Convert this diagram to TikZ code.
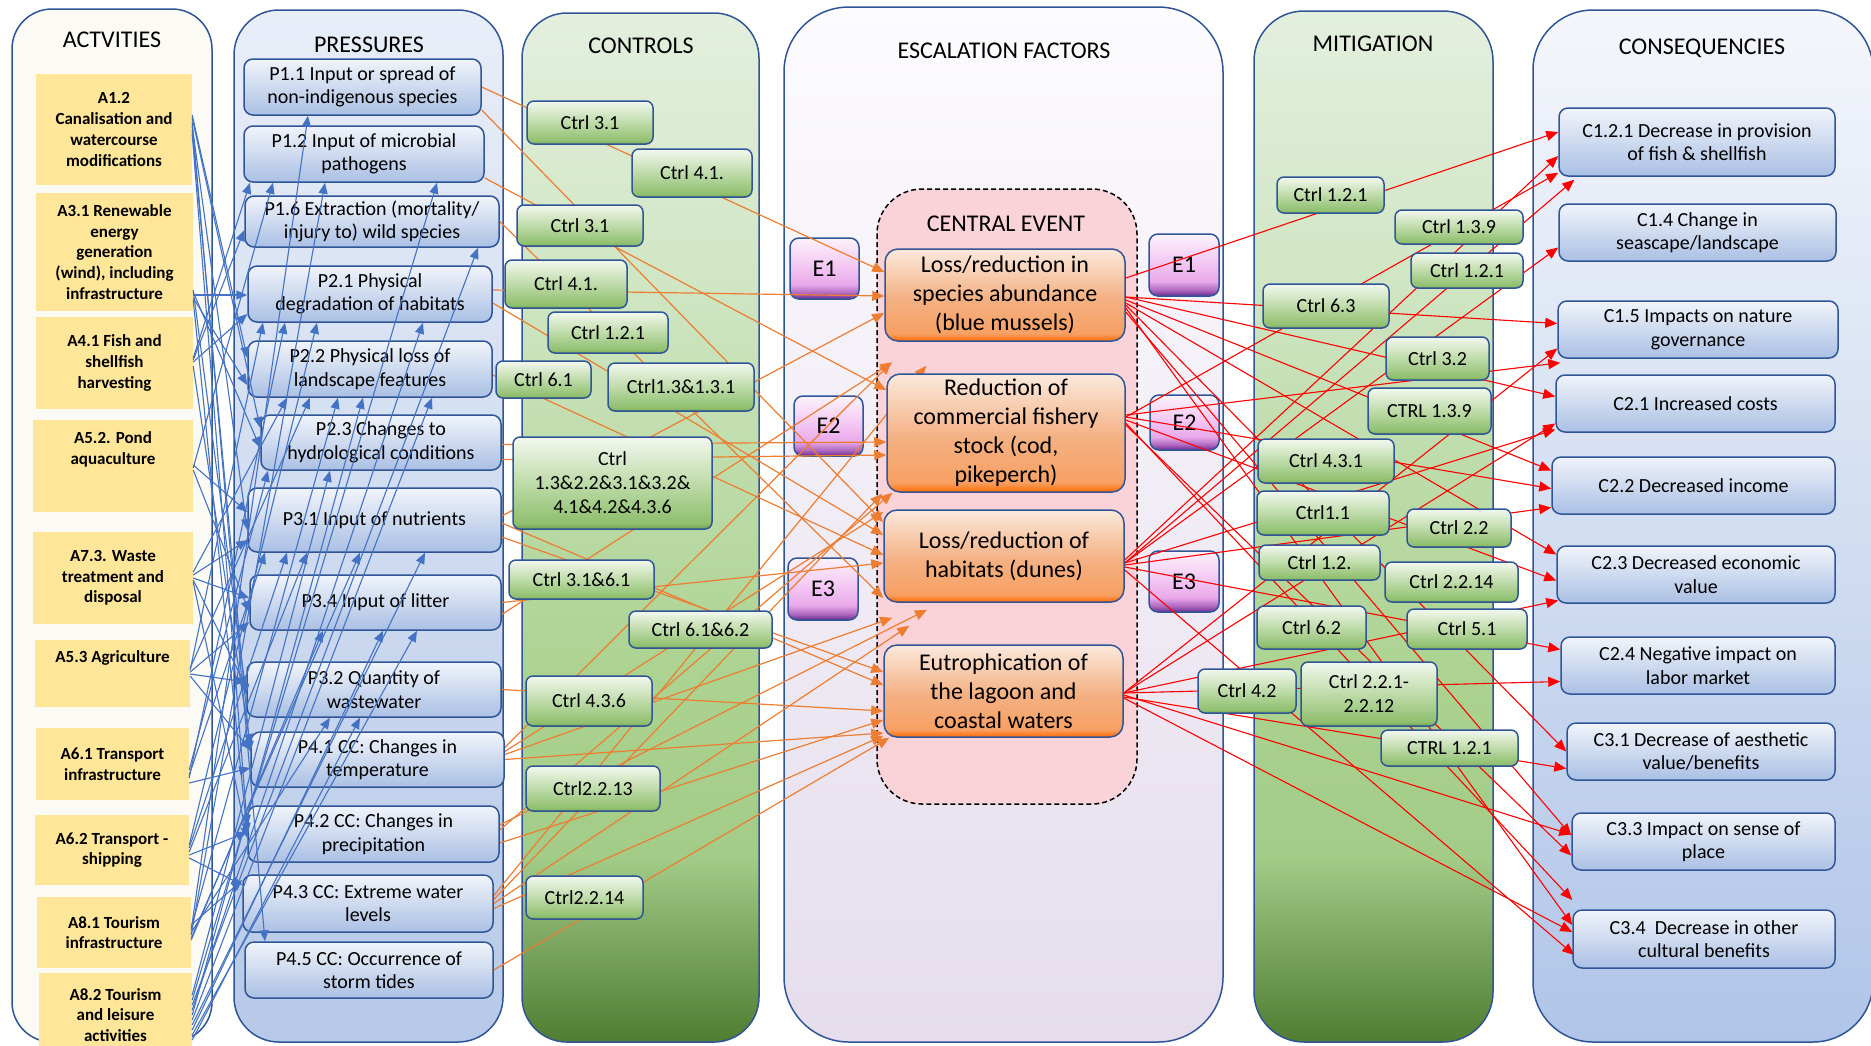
\documentclass[tikz,border=0pt]{standalone}
\usepackage{fontspec}
\setmainfont{Carlito}
\usetikzlibrary{arrows.meta}

\definecolor{frameblue}{RGB}{47,85,151}
\definecolor{actyellow}{RGB}{255,230,153}
\definecolor{actpanel}{RGB}{252,250,244}
\definecolor{prestop}{RGB}{232,238,248}
\definecolor{presbot}{RGB}{183,201,232}
\definecolor{boxtop}{RGB}{241,244,250}
\definecolor{boxbot}{RGB}{170,192,228}
\definecolor{esctop}{RGB}{252,251,254}
\definecolor{escbot}{RGB}{229,221,236}
\definecolor{constop}{RGB}{244,246,251}
\definecolor{consbot}{RGB}{176,197,232}
\definecolor{cepink}{RGB}{249,211,216}
\definecolor{lineblue}{RGB}{68,114,196}
\definecolor{lineorange}{RGB}{237,125,49}
\definecolor{linered}{RGB}{255,0,0}
\definecolor{gA}{RGB}{80,125,50}
\definecolor{gB}{RGB}{126,168,98}
\definecolor{gC}{RGB}{163,204,136}
\definecolor{gD}{RGB}{171,210,143}
\definecolor{gE}{RGB}{188,219,168}
\definecolor{gF}{RGB}{208,230,196}
\definecolor{gG}{RGB}{228,239,222}
\definecolor{bA}{RGB}{110,158,79}
\definecolor{bB}{RGB}{143,191,110}
\definecolor{bC}{RGB}{190,219,169}
\definecolor{bD}{RGB}{243,248,239}
\definecolor{eA}{RGB}{106,44,145}
\definecolor{eB}{RGB}{176,106,192}
\definecolor{eC}{RGB}{233,169,234}
\definecolor{eD}{RGB}{245,205,244}
\definecolor{eE}{RGB}{251,243,251}
\definecolor{oA}{RGB}{255,106,0}
\definecolor{oB}{RGB}{247,160,99}
\definecolor{oC}{RGB}{244,177,131}
\definecolor{oD}{RGB}{251,233,221}

\pgfdeclareverticalshading{greenpanel}{100bp}{color(0bp)=(gA); color(25bp)=(gA); color(30bp)=(gB); color(34bp)=(gC); color(42bp)=(gD); color(52bp)=(gE); color(62bp)=(gF); color(75bp)=(gG); color(100bp)=(gG)}
\pgfdeclareverticalshading{greenbox}{100bp}{color(0bp)=(bA); color(25bp)=(bA); color(28bp)=(bB); color(50bp)=(bC); color(75bp)=(bD); color(100bp)=(bD)}
\pgfdeclareverticalshading{purplebox}{100bp}{color(0bp)=(eA); color(25bp)=(eA); color(30bp)=(eB); color(37bp)=(eC); color(55bp)=(eD); color(75bp)=(eE); color(100bp)=(eE)}
\pgfdeclareverticalshading{orangebox}{100bp}{color(0bp)=(oA); color(25bp)=(oA); color(29bp)=(oB); color(48bp)=(oC); color(75bp)=(oD); color(100bp)=(oD)}

\pgfdeclarelayer{background}
\pgfdeclarelayer{lines}
\pgfsetlayers{background,lines,main}

\tikzset{
  sz/.style 2 args={minimum width=#1pt, minimum height=#2pt},
  panel/.style={draw=frameblue, line width=1.5pt},
  paneltitle/.style={font=\fontsize{24}{29}\selectfont},
  actbox/.style={fill=actyellow, align=center, inner sep=2pt, font=\fontsize{17}{20.7}\selectfont\bfseries},
  presbox/.style={draw=frameblue, line width=1.5pt, rounded corners=9pt, top color=boxtop, bottom color=boxbot, align=center, inner sep=2pt, font=\fontsize{20}{23.5}\selectfont},
  ctrlbox/.style={draw=frameblue, line width=1.5pt, rounded corners=7pt, shade, shading=greenbox, align=center, inner sep=2pt, font=\fontsize{20}{24}\selectfont},
  escbox/.style={draw=frameblue, line width=1.5pt, rounded corners=9pt, shade, shading=purplebox, inner sep=2pt, font=\fontsize{24}{29}\selectfont},
  evbox/.style={draw=frameblue, line width=1.5pt, rounded corners=13pt, shade, shading=orangebox, align=center, inner sep=2pt, font=\fontsize{24}{29}\selectfont},
  blueln/.style={lineblue, line width=1.1pt, -{Triangle[length=11pt,width=9pt]}},
  orangeln/.style={lineorange, line width=1.2pt, -{Triangle[length=12pt,width=10pt]}},
  redln/.style={linered, line width=1.1pt, -{Triangle[length=12pt,width=10pt]}},
}

\begin{document}
\begin{tikzpicture}[x=1pt, y=-1pt]
\useasboundingbox (0,0) rectangle (1871,1045);

\begin{pgfonlayer}{background}
  % columns
  \draw[panel, rounded corners=40pt, fill=actpanel] (12,9) rectangle (212,1042);
  \draw[panel, rounded corners=45pt, top color=prestop, bottom color=presbot] (234,10) rectangle (503,1042);
  \draw[panel, rounded corners=45pt, shade, shading=greenpanel] (522,13) rectangle (759,1042);
  \draw[panel, rounded corners=65pt, top color=esctop, bottom color=escbot] (784,7) rectangle (1223,1042);
  \draw[panel, rounded corners=50pt, shade, shading=greenpanel] (1254,11) rectangle (1493,1042);
  \draw[panel, rounded corners=60pt, top color=constop, bottom color=consbot] (1533,10) rectangle (1873,1042);
  \draw[black, line width=1.5pt, dash pattern=on 5pt off 3pt, rounded corners=45pt, fill=cepink] (877,189) rectangle (1137,804);

  \node[paneltitle] (tact) at (112,40) {ACTVITIES};
  \node[paneltitle] (tpres) at (369,45) {PRESSURES};
  \node[paneltitle] (tctrl) at (641,46) {CONTROLS};
  \node[paneltitle] (tesc) at (1004,51) {ESCALATION FACTORS};
  \node[paneltitle] (tmit) at (1373,44) {MITIGATION};
  \node[paneltitle] (tcons) at (1702,48) {CONSEQUENCIES};
  \node[paneltitle] (tce) at (1006,224) {CENTRAL EVENT};

  \node[escbox, sz={69}{61}] (e1l) at (824.5,268.5) {E1};
  \node[escbox, sz={69}{60}] (e2l) at (828.5,426) {E2};
  \node[escbox, sz={70}{62}] (e3l) at (823,589) {E3};
  \node[escbox, sz={70}{62}] (e1r) at (1184,265) {E1};
  \node[escbox, sz={69}{55}] (e2r) at (1184.5,422.5) {E2};
  \node[escbox, sz={70}{61}] (e3r) at (1184,581.5) {E3};
\end{pgfonlayer}

% activities
\node[actbox, sz={156}{111}] (a12) at (114,129.5) {A1.2\\Canalisation and\\watercourse\\modifications};
\node[actbox, sz={157}{118}] (a31) at (114.5,252) {A3.1 Renewable\\energy\\generation\\(wind), including\\infrastructure};
\node[actbox, sz={157}{92}] (a41) at (114.5,363) {A4.1 Fish and\\shellfish\\harvesting};
\node[actbox, sz={160}{92}, text depth=36pt] (a52) at (113,466) {A5.2. Pond\\aquaculture};
\node[actbox, sz={160}{92}] (a73) at (113,578) {A7.3. Waste\\treatment and\\disposal};
\node[actbox, sz={155}{67}, text depth=33pt] (a53) at (112.5,673.5) {A5.3 Agriculture};
\node[actbox, sz={153}{72}] (a61) at (112.5,764) {A6.1 Transport\\infrastructure};
\node[actbox, sz={154}{70}] (a62) at (112,850) {A6.2 Transport -\\shipping};
\node[actbox, sz={154}{71}] (a81) at (114,932.5) {A8.1 Tourism\\infrastructure};
\node[actbox, sz={153}{84}] (a82) at (115.5,1015) {A8.2 Tourism\\and leisure\\activities};

% pressures
\node[presbox, sz={237}{56}] (p11) at (362.5,87) {P1.1 Input or spread of\\non-indigenous species};
\node[presbox, sz={240}{56}] (p12) at (364,154) {P1.2 Input of microbial\\pathogens};
\node[presbox, sz={254}{51}] (p16) at (372,221.5) {P1.6 Extraction (mortality/\\injury to) wild species};
\node[presbox, sz={244}{56}] (p21) at (370,294) {P2.1 Physical\\degradation of habitats};
\node[presbox, sz={244}{56}] (p22) at (370,369) {P2.2 Physical loss of\\landscape features};
\node[presbox, sz={240}{55}] (p23) at (381,442.5) {P2.3 Changes to\\hydrological conditions};
\node[presbox, sz={253}{64}] (p31) at (374.5,520) {P3.1 Input of nutrients};
\node[presbox, sz={251}{55}] (p34) at (375.5,602.5) {P3.4 Input of litter};
\node[presbox, sz={254}{55}] (p32) at (374,689.5) {P3.2 Quantity of\\wastewater};
\node[presbox, sz={253}{55}] (p41) at (377.5,759.5) {P4.1 CC: Changes in\\temperature};
\node[presbox, sz={251}{56}] (p42) at (373.5,834) {P4.2 CC: Changes in\\precipitation};
\node[presbox, sz={250}{57}] (p43) at (368,903.5) {P4.3 CC: Extreme water\\levels};
\node[presbox, sz={248}{56}] (p45) at (369,970) {P4.5 CC: Occurrence of\\storm tides};

% controls
\node[ctrlbox, sz={126}{43}] (c31a) at (590,122.5) {Ctrl 3.1};
\node[ctrlbox, sz={120}{48}] (c41a) at (692,173) {Ctrl 4.1.};
\node[ctrlbox, sz={126}{41}] (c31b) at (580,225.5) {Ctrl 3.1};
\node[ctrlbox, sz={122}{48}] (c41b) at (566,284) {Ctrl 4.1.};
\node[ctrlbox, sz={120}{41}] (c121) at (608,332.5) {Ctrl 1.2.1};
\node[ctrlbox, sz={95}{37}] (c61) at (543.5,379.5) {Ctrl 6.1};
\node[ctrlbox, sz={146}{48}] (c1313) at (681,387) {Ctrl1.3\&1.3.1};
\node[ctrlbox, sz={199}{92}] (cbig) at (612.5,483) {Ctrl\\1.3\&2.2\&3.1\&3.2\&\\4.1\&4.2\&4.3.6};
\node[ctrlbox, sz={145}{39}] (c3161) at (581.5,579.5) {Ctrl 3.1\&6.1};
\node[ctrlbox, sz={143}{37}] (c6162) at (700.5,629.5) {Ctrl 6.1\&6.2};
\node[ctrlbox, sz={126}{50}] (c436) at (589,701) {Ctrl 4.3.6};
\node[ctrlbox, sz={134}{45}] (c2213) at (593,788.5) {Ctrl2.2.13};
\node[ctrlbox, sz={117}{43}] (c2214) at (584.5,897.5) {Ctrl2.2.14};

% central event
\node[evbox, sz={240}{92}] (ce1) at (1005,295) {Loss/reduction in\\species abundance\\(blue mussels)};
\node[evbox, sz={238}{118}] (ce2) at (1006,433) {Reduction of\\commercial fishery\\stock (cod,\\pikeperch)};
\node[evbox, sz={240}{92}] (ce3) at (1004,556) {Loss/reduction of\\habitats (dunes)};
\node[evbox, sz={239}{92}] (ce4) at (1003.5,691) {Eutrophication of\\the lagoon and\\coastal waters};

% mitigation
\node[ctrlbox, sz={107}{36}] (m121a) at (1330.5,195) {Ctrl 1.2.1};
\node[ctrlbox, sz={128}{34}] (m139a) at (1459,227) {Ctrl 1.3.9};
\node[ctrlbox, sz={112}{35}] (m121b) at (1467,270.5) {Ctrl 1.2.1};
\node[ctrlbox, sz={126}{44}] (m63) at (1326,306) {Ctrl 6.3};
\node[ctrlbox, sz={103}{43}] (m32) at (1437.5,358.5) {Ctrl 3.2};
\node[ctrlbox, sz={123}{46}] (m139b) at (1429.5,411) {CTRL 1.3.9};
\node[ctrlbox, sz={136}{44}] (m431) at (1326,461) {Ctrl 4.3.1};
\node[ctrlbox, sz={132}{44}] (m11) at (1323,513) {Ctrl1.1};
\node[ctrlbox, sz={104}{38}] (m22) at (1459,528) {Ctrl 2.2};
\node[ctrlbox, sz={121}{35}] (m12) at (1319.5,562.5) {Ctrl 1.2.};
\node[ctrlbox, sz={133}{40}] (m2214) at (1451.5,582) {Ctrl 2.2.14};
\node[ctrlbox, sz={109}{43}] (m62) at (1311.5,627.5) {Ctrl 6.2};
\node[ctrlbox, sz={120}{40}] (m51) at (1467,629) {Ctrl 5.1};
\node[ctrlbox, sz={98}{44}] (m42) at (1247,691) {Ctrl 4.2};
\node[ctrlbox, sz={136}{64}] (m2212) at (1369,694) {Ctrl 2.2.1-\\2.2.12};
\node[ctrlbox, sz={137}{36}] (m121c) at (1449.5,748) {CTRL 1.2.1};

% consequences
\node[presbox, sz={276}{68}] (k121) at (1697,142) {C1.2.1 Decrease in provision\\of fish \& shellfish};
\node[presbox, sz={277}{57}] (k14) at (1697.5,232.5) {C1.4 Change in\\seascape/landscape};
\node[presbox, sz={280}{57}] (k15) at (1698,329.5) {C1.5 Impacts on nature\\governance};
\node[presbox, sz={279}{57}] (k21) at (1695.5,403.5) {C2.1 Increased costs};
\node[presbox, sz={283}{57}] (k22) at (1693.5,485.5) {C2.2 Decreased income};
\node[presbox, sz={278}{57}] (k23) at (1696,574.5) {C2.3 Decreased economic\\value};
\node[presbox, sz={274}{57}] (k24) at (1698,665.5) {C2.4 Negative impact on\\labor market};
\node[presbox, sz={268}{57}] (k31) at (1701,751.5) {C3.1 Decrease of aesthetic\\value/benefits};
\node[presbox, sz={263}{57}] (k33) at (1703.5,841.5) {C3.3 Impact on sense of\\place};
\node[presbox, sz={262}{58}] (k34) at (1704,939) {C3.4\ \ Decrease in other\\cultural benefits};

\begin{pgfonlayer}{lines}
  % pressures -> central event
  \foreach \s/\sy/\t/\tx/\ty in {p11/0/ce1.west/0/-23, p11/23/ce3.west/0/-34, p12/24/ce2.west/0/-43,
      p16/0/ce3.west/0/42, p21/-4/ce1.west/0/1, p21/9/ce3.west/0/-21, p22/6/ce3.west/0/-1,
      p23/2/ce2.west/0/9, p23/17/ce2.west/0/22, p31/-4/ce1.west/0/18, p31/3/ce4.west/0/-6,
      p31/17/ce4.west/0/-19, p34/0/ce3.west/0/7, p34/12/ce2.north west/6/-11, p32/0/ce4.west/0/20,
      p41/0/ce4.west/0/42, p41/-5/ce3.south west/9/15, p41/-8/ce3.west/0/-44,
      p41/-12/ce1.south west/7/21, p42/9/ce4.west/0/29, p42/-9/ce3.south/-77/7,
      p42/-4/ce2.south west/6/0, p43/0/ce3.south west/26/23, p43/-4/ce2.south west/-4/1,
      p43/5/ce4.south west/0/-2, p43/-8/ce1.south west/42/24, p45/0/ce4.south west/6/0}
    \draw[orangeln] ([shift={(0,\sy)}]\s.east) -- ([shift={(\tx,\ty)}]\t);
  % central event -> consequences
  \foreach \s/\sy/\t/\tx/\ty in {ce1/-17/k121.west/0/-10, ce1/2/k15.west/0/-6, ce1/2/k21.west/0/-7,
      ce1/5/k22.west/0/-15, ce1/10/k31.west/0/0, ce1/13/k34.west/0/-14, ce1/17/k33.west/0/-6,
      ce1/8/k23.west/0/-20, ce2/-16/k121.south west/0/-4, ce2/-16/k22.west/0/3,
      ce2/-13/k23.west/0/6, ce2/-8/k33.west/0/14, ce2/-10/k34.west/0/-39,
      ce2/-18/k15.south west/3/4, ce3/7/k121.south west/16/3, ce3/7/k14.west/0/15,
      ce3/7/k21.west/0/26, ce3/9/k22.west/0/22, ce3/11/k24.west/0/-16, ce3/14/k34.west/2/16,
      ce3/4/k121.west/0/14, ce4/2/k15.west/0/19, ce4/2/k21.west/0/20, ce4/2/k23.west/2/26,
      ce4/2/k24.west/0/16, ce4/6/k31.west/0/17, ce4/7/k34.west/0/-7, ce4/4/k33.west/0/-7}
    \draw[redln] ([shift={(0,\sy)}]\s.east) -- ([shift={(\tx,\ty)}]\t);
\end{pgfonlayer}

% activities -> pressures
\foreach \s/\sy/\t/\tx/\ty in {a12/-14.5/p22.west/0/-11, a12/-11.5/p23.west/0/-14.5,
    a12/-7.5/p45.north/-104/0, a12/-3.5/p31.west/0/10, a12/0.5/p41.west/0/-7.5,
    a12/4.5/p42.west/0/-8, a31/43/p21.west/0/1, a31/40/p23.west/0/5.5, a31/46/p22.west/0/16,
    a31/48/p42.west/0/0, a31/38/p32.west/0/5.5, a41/-3/p16.west/0/8.5, a41/-1/p21.west/0/20,
    a41/-5/p12.south/-114/0, a41/3/p41.west/0/-14.5, a52/-1/p31.west/0/-8,
    a52/2/p12.south/-91/0, a52/4/p34.west/0/9.5, a73/-3/p31.west/0/20, a73/0/p34.west/0/-4.5,
    a73/2/p32.west/0/-2.5, a73/4/p42.west/0/4, a73/-6/p22.south/-83/0,
    a53/-1.5/p34.west/0/19.5, a53/0.5/p32.west/0/-7.5, a53/2.5/p41.west/0/-9.5,
    a53/-3.5/p21.south/-107/0, a53/-5.5/p22.south/-60/0, a61/19/p41.west/0/8.5,
    a61/11/p31.south/-109.5/0, a61/6/p23.south/-113/0, a61/14/p21.south/-85/0,
    a62/5/p42.west/0/-2, a62/-2/p31.south/-87.5/0, a62/2/p31.south/-67.5/0,
    a62/-5/p21.south/-53/0, a62/8/p43.west/0/-18.5, a81/-7.5/p43.west/0/-23.5,
    a81/-2.5/p11.south/-54.5/0, a81/2.5/p12.south/-39/0, a81/-4.5/p22.south/-32/0,
    a81/5.5/p31.south/-14.5/0, a81/7.5/p34.south/-52.5/0, a81/0/p32.south/-44/0,
    a82/-15/p12.south/73/0, a82/-10/p16.south/106/0, a82/-5/p21.south/53/0,
    a82/0/p22.south/-7/0, a82/5/p22.south/62/0, a82/10/p31.south/50.5/0,
    a82/15/p34.south/7.5/0, a82/20/p34.south/41.5/0, a82/25/p32.south/-14/0,
    a82/-20/p23.south/-51/0}
  \draw[blueln] ([shift={(0,\sy)}]\s.east) -- ([shift={(\tx,\ty)}]\t);
\end{tikzpicture}
\end{document}
